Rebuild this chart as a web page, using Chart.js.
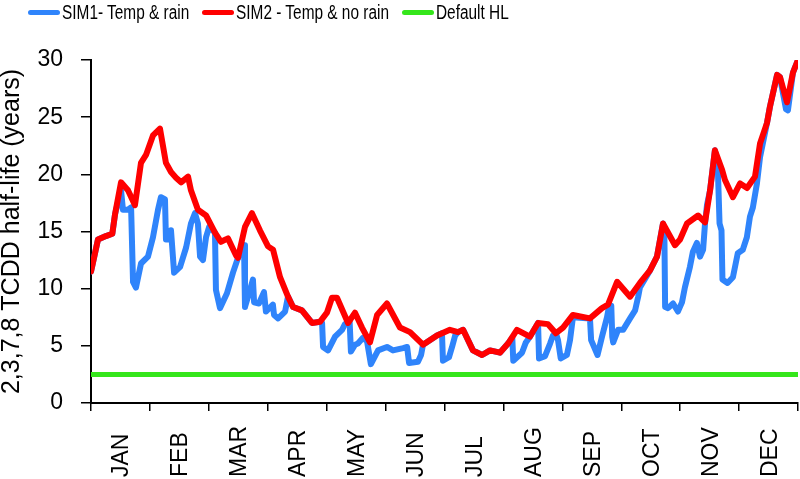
<!DOCTYPE html>
<html>
<head>
<meta charset="utf-8">
<script src="https://cdn.jsdelivr.net/npm/chart.js@4.4.0/dist/chart.umd.min.js"></script>
<style>
    body { margin: 0; background: #ffffff; }
    #wrap { position: relative; width: 800px; height: 479px; }
    #legend {
        position: absolute; left: 28px; top: 0; height: 24px;
        display: flex; align-items: center;
        font-family: "Liberation Sans", Arial, sans-serif;
        font-size: 19.5px; color: #000;
    }
    .legend-item { display: flex; align-items: center; margin-right: 13px; white-space: nowrap; }
    .legend-line { width: 32px; height: 5px; border-radius: 3px; margin-right: 2px; }
    .legend-text { display: inline-block; transform: scaleX(0.79); transform-origin: 0 50%; }
</style>
</head>
<body>
<div id="wrap">
    <canvas id="halfLifeChart" width="800" height="479"></canvas>
    <div id="legend"></div>
</div>
<script>
const months = ['JAN', 'FEB', 'MAR', 'APR', 'MAY', 'JUN', 'JUL', 'AUG', 'SEP', 'OCT', 'NOV', 'DEC'];
const yTicks = [0, 5, 10, 15, 20, 25, 30];

// [day of year, half-life in years]
const sim1 = [
    [0, 11.5], [3.6, 14.3], [7.7, 14.6], [11, 14.8], [12.4, 16.5], [15.5, 18.6], [16.5, 16.9], [19.1, 16.9],
    [20.7, 17.1], [21.7, 10.6], [23.2, 10.1], [25.8, 12.2], [29.4, 12.8], [32.0, 14.5], [34.6, 16.9], [36.1, 18.0],
    [38.2, 17.8], [38.7, 14.3], [40.8, 14.3], [41.3, 15.1], [42.9, 11.4], [46.0, 11.9], [49.1, 13.6], [51.6, 15.7],
    [53.7, 16.6], [55.2, 15.7], [56.3, 12.8], [57.8, 12.5], [59.4, 14.5], [61.0, 15.4], [64.0, 14.9], [64.5, 9.9],
    [66.6, 8.3], [70.2, 9.6], [73.3, 11.4], [75.9, 12.7], [79.0, 13.8], [79.5, 8.4], [81.6, 9.6], [83.6, 10.8],
    [84.2, 8.8], [86.7, 8.7], [89.3, 9.7], [90.3, 8.0], [93.9, 8.6], [94.5, 7.7], [96.6, 7.4], [100.2, 8.0],
    [101.7, 9.3], [104.3, 8.4], [108.9, 8.1], [114.1, 7.0], [118.2, 7.1], [119.3, 7.0], [119.8, 4.9], [122.4, 4.6],
    [126.0, 5.8], [129.6, 6.4], [131.1, 6.9], [133.5, 7.2], [134.2, 4.5], [136.3, 5.1], [137.8, 5.2], [140.4, 5.7],
    [142.5, 5.4], [144.5, 3.4], [148.2, 4.6], [152.8, 4.9], [155.9, 4.6], [161.1, 4.8], [163.2, 4.9], [164.2, 3.5],
    [168.8, 3.6], [170.4, 4.2], [171.4, 5.1], [178.6, 5.9], [181.2, 6.1], [181.7, 3.7], [184.8, 4.0], [186.4, 4.9],
    [188.0, 5.9], [189.5, 6.2], [192.1, 6.4], [197.2, 4.6], [201.9, 4.2], [206.0, 4.6], [211.1, 4.4], [215.3, 5.2],
    [217.5, 5.7], [218.0, 3.7], [222.5, 4.4], [224.5, 5.3], [226.6, 5.8], [230.8, 7.0], [231.3, 3.9], [234.4, 4.1],
    [237.0, 5.2], [238.5, 5.9], [240.0, 6.1], [241.1, 5.5], [242.5, 3.9], [245.7, 4.2], [247.3, 5.5], [248.8, 7.5],
    [257.6, 7.4], [258.2, 5.5], [261.5, 4.2], [263.8, 5.8], [266.4, 7.5], [267.5, 8.5], [268.6, 8.5], [269.1, 5.8],
    [269.6, 5.3], [272.1, 6.4], [274.7, 6.4], [278.3, 7.4], [280.9, 8.1], [282.5, 9.3], [283.4, 10.1], [288.6, 11.6],
    [292.2, 12.8], [295.3, 15.7], [296.0, 15.1], [296.4, 8.4], [297.9, 8.3], [300.5, 8.7], [303.0, 8.0], [305.1, 8.8],
    [306.6, 10.1], [309.2, 11.9], [310.7, 13.2], [312.8, 14.0], [314.4, 12.8], [316.0, 13.4], [317.0, 15.7], [318.0, 17.3],
    [319.6, 18.6], [322.1, 22.1], [323.6, 20.6], [324.5, 15.7], [325.5, 15.1], [326.0, 10.8], [328.6, 10.5], [331.4, 11.0],
    [333.9, 13.1], [336.5, 13.4], [338.6, 14.5], [340.2, 16.3], [341.7, 17.1], [343.8, 19.2], [345.4, 21.5], [349.0, 24.5],
    [350.5, 25.9], [354.2, 28.7], [355.7, 28.5], [358.8, 25.7], [359.8, 25.6], [362.4, 28.9], [365, 30.0]
];

const sim2 = [
    [0, 11.5], [3.6, 14.3], [7.7, 14.6], [11, 14.8], [12.4, 16.5], [15.5, 19.3], [19.1, 18.6], [22.7, 17.3],
    [25.8, 21.0], [28.4, 21.7], [32.0, 23.4], [35.6, 24.0], [38.7, 21.0], [41.3, 20.2], [43.9, 19.7], [46.5, 19.3],
    [50.1, 19.8], [51.6, 18.6], [55.2, 16.9], [59.4, 16.4], [64.0, 14.9], [67.1, 14.1], [70.7, 14.4], [74.9, 12.9],
    [75.9, 12.7], [79.5, 15.4], [83.1, 16.6], [87.2, 15.1], [91.4, 13.7], [94.0, 13.4], [97.6, 11.0], [101.7, 9.3],
    [104.3, 8.4], [108.9, 8.1], [114.1, 7.0], [118.2, 7.1], [121.8, 7.9], [124.4, 9.2], [127.0, 9.2], [132.7, 7.0],
    [136.3, 7.9], [139.9, 6.6], [144.0, 5.3], [147.7, 7.7], [152.8, 8.7], [159.5, 6.6], [164.7, 6.2], [171.4, 5.1],
    [178.6, 5.9], [185.3, 6.4], [189.5, 6.2], [192.1, 6.4], [197.2, 4.6], [201.9, 4.2], [206.0, 4.6], [211.1, 4.4],
    [215.3, 5.2], [219.9, 6.4], [226.6, 5.8], [230.8, 7.0], [235.9, 6.9], [240.0, 6.1], [243.7, 6.6], [248.8, 7.7],
    [257.6, 7.4], [263.8, 8.3], [266.9, 8.6], [271.6, 10.6], [278.3, 9.3], [283.4, 10.5], [288.6, 11.6], [292.2, 12.8],
    [295.3, 15.7], [301.5, 13.8], [304.1, 14.3], [307.7, 15.7], [313.4, 16.4], [317.0, 15.8], [319.6, 18.6], [322.1, 22.1],
    [325.8, 20.4], [327.3, 19.5], [331.4, 18.0], [335.1, 19.2], [338.7, 18.8], [342.8, 19.8], [345.4, 22.7], [349.0, 24.5],
    [350.5, 25.9], [354.2, 28.7], [355.7, 28.5], [359.3, 26.3], [362.4, 28.9], [365, 30.0]
];

const defaultHL = [[0, 2.5], [365, 2.5]];

const toPoints = pairs => pairs.map(p => ({ x: p[0], y: p[1] }));

// month names drawn bottom-up, starting at the foot of the canvas
const monthLabels = {
    id: 'monthLabels',
    afterDraw(chart) {
        const scale = chart.scales.m;
        const ctx = chart.ctx;
        ctx.save();
        ctx.font = '23px "Liberation Sans", Arial, sans-serif';
        ctx.fillStyle = '#000000';
        ctx.textAlign = 'left';
        ctx.textBaseline = 'alphabetic';
        scale.ticks.forEach((tick, i) => {
            const x = scale.getPixelForTick(i);
            ctx.save();
            ctx.translate(x + 8, 477);
            ctx.rotate(-Math.PI / 2);
            ctx.fillText(scale.getLabelForValue(tick.value), 0, 0);
            ctx.restore();
        });
        ctx.restore();
    }
};

const tickFont = { family: '"Liberation Sans", Arial, sans-serif', size: 23 };

const chart = new Chart(document.getElementById('halfLifeChart').getContext('2d'), {
    type: 'line',
    data: {
        datasets: [
            {
                label: 'SIM1- Temp & rain',
                data: toPoints(sim1),
                borderColor: '#2f84fb',
                backgroundColor: '#2f84fb',
                borderWidth: 6,
                order: 2
            },
            {
                label: 'SIM2 - Temp & no rain',
                data: toPoints(sim2),
                borderColor: '#ff0000',
                backgroundColor: '#ff0000',
                borderWidth: 6,
                order: 1
            },
            {
                label: 'Default HL',
                data: toPoints(defaultHL),
                borderColor: '#35e61b',
                backgroundColor: '#35e61b',
                borderWidth: 5,
                order: 0
            }
        ]
    },
    options: {
        responsive: false,
        animation: false,
        elements: {
            point: { radius: 0 },
            line: { tension: 0, borderCapStyle: 'round', borderJoinStyle: 'round' }
        },
        layout: { padding: { top: 60, right: 2, left: 0, bottom: 0 } },
        plugins: {
            legend: { display: false },
            tooltip: { enabled: false }
        },
        scales: {
            x: { type: 'linear', min: 0, max: 365, display: false },
            m: {
                type: 'category',
                labels: months,
                offset: true,
                position: 'bottom',
                grid: { offset: true, drawOnChartArea: false, drawTicks: true, tickLength: 8, color: '#000000', lineWidth: 1.5 },
                border: { display: true, color: '#000000', width: 2 },
                ticks: { display: false },
                afterFit: scale => { scale.height = 76; }
            },
            y: {
                min: 0,
                max: 30,
                afterBuildTicks: scale => { scale.ticks = yTicks.map(v => ({ value: v })); },
                ticks: { font: tickFont, color: '#000000', padding: 18 },
                grid: { drawOnChartArea: false, tickLength: 10, color: '#000000', lineWidth: 1.5 },
                border: { color: '#000000', width: 2 },
                title: {
                    display: true,
                    text: '2,3,7,8 TCDD half-life (years)',
                    color: '#000000',
                    font: { family: '"Liberation Sans", Arial, sans-serif', size: 25, lineHeight: 1 },
                    padding: 0
                },
                afterFit: scale => { scale.width = 91; }
            }
        }
    },
    plugins: [monthLabels]
});

// legend in the order of the original figure, text squeezed like the narrow original font
const legend = document.getElementById('legend');
chart.data.datasets.forEach(ds => {
    const item = document.createElement('div');
    item.className = 'legend-item';
    item.innerHTML = `<span class="legend-line" style="background:${ds.borderColor}"></span><span class="legend-text">${ds.label}</span>`;
    legend.appendChild(item);
    const text = item.querySelector('.legend-text');
    text.style.marginRight = `${-(1 - 0.79) * text.offsetWidth}px`;
});
</script>
</body>
</html>
